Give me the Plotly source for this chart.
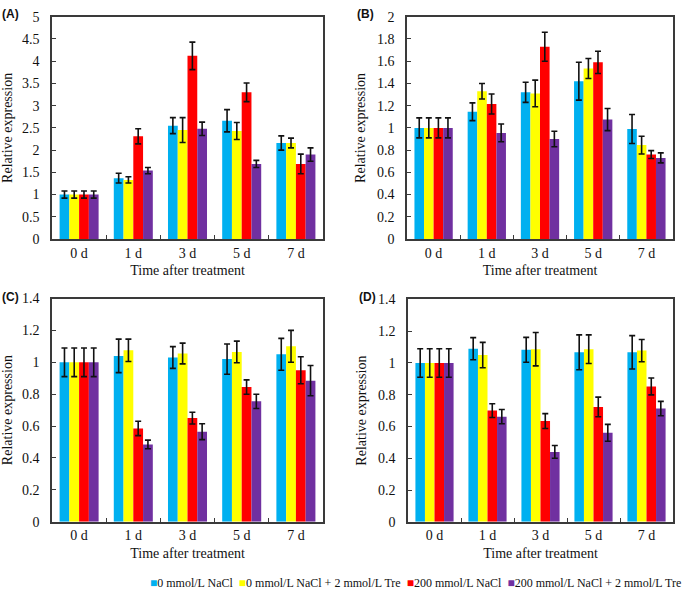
import plotly.graph_objects as go

categories = ["0 d", "1 d", "3 d", "5 d", "7 d"]
series_names = ["0 mmol/L NaCl", "0 mmol/L NaCl + 2 mmol/L Tre",
                "200 mmol/L NaCl", "200 mmol/L NaCl + 2 mmol/L Tre"]
colors = ["#00B0F0", "#FFFF00", "#FF0000", "#7030A0"]

# Panel A
A_vals = [[1.0, 1.37, 2.55, 2.66, 2.16],
          [1.0, 1.33, 2.45, 2.43, 2.16],
          [1.0, 2.31, 4.12, 3.30, 1.69],
          [1.0, 1.54, 2.48, 1.69, 1.90]]
A_err = [[0.08, 0.11, 0.18, 0.25, 0.16],
         [0.08, 0.07, 0.28, 0.19, 0.11],
         [0.08, 0.17, 0.31, 0.21, 0.22],
         [0.08, 0.07, 0.15, 0.08, 0.15]]
# Panel B
B_vals = [[1.0, 1.145, 1.32, 1.42, 0.99],
          [1.0, 1.33, 1.31, 1.535, 0.845],
          [1.0, 1.215, 1.73, 1.59, 0.76],
          [1.0, 0.955, 0.90, 1.075, 0.73]]
B_err = [[0.09, 0.08, 0.09, 0.17, 0.13],
         [0.09, 0.07, 0.12, 0.09, 0.08],
         [0.09, 0.09, 0.13, 0.10, 0.035],
         [0.09, 0.08, 0.07, 0.10, 0.045]]
# Panel C
C_vals = [[1.0, 1.04, 1.03, 1.02, 1.05],
          [1.0, 1.075, 1.055, 1.065, 1.10],
          [1.0, 0.585, 0.65, 0.845, 0.95],
          [1.0, 0.485, 0.565, 0.755, 0.885]]
C_err = [[0.09, 0.105, 0.068, 0.095, 0.10],
         [0.09, 0.07, 0.065, 0.068, 0.10],
         [0.09, 0.045, 0.037, 0.045, 0.085],
         [0.09, 0.027, 0.05, 0.045, 0.095]]
# Panel D
D_vals = [[1.0, 1.09, 1.083, 1.067, 1.067],
          [1.0, 1.05, 1.087, 1.087, 1.078],
          [1.0, 0.70, 0.634, 0.723, 0.852],
          [1.0, 0.662, 0.44, 0.56, 0.713]]
D_err = [[0.09, 0.07, 0.078, 0.11, 0.105],
         [0.09, 0.08, 0.105, 0.09, 0.07],
         [0.09, 0.043, 0.047, 0.062, 0.053],
         [0.09, 0.045, 0.04, 0.053, 0.045]]

panel_labels = ["(A)", "(B)", "(C)", "(D)"]
y_ranges = [(0, 5, 0.5), (0, 2, 0.2), (0, 1.4, 0.2), (0, 1.4, 0.2)]
x_title = "Time after treatment"
y_title = "Relative expression"

W, H = 685, 598
# plot-area pixel boxes: (left, right, top, bottom)
boxes = [(52, 323, 10, 238), (407, 673, 10, 238),
         (52, 323, 299, 528), (408, 673, 300, 528)]
label_pos = [(0, 7), (355, 7), (0, 297), (357, 297)]

fig = go.Figure()
panels = [(A_vals, A_err), (B_vals, B_err), (C_vals, C_err), (D_vals, D_err)]
serif = "Liberation Serif"

for p, (vals, errs) in enumerate(panels):
    xa = "x" if p == 0 else f"x{p+1}"
    ya = "y" if p == 0 else f"y{p+1}"
    for s in range(4):
        fig.add_trace(go.Bar(
            x=categories, y=vals[s], name=series_names[s],
            marker=dict(color=colors[s], line=dict(width=0)),
            error_y=dict(type="data", array=errs[s], color="#111111",
                         thickness=1.6, width=3),
            xaxis=xa, yaxis=ya, showlegend=False))
    l, r, t, b = boxes[p]
    k = "" if p == 0 else str(p + 1)
    y0, y1, dt = y_ranges[p]
    fig.layout["xaxis" + k] = dict(
        domain=[l / W, r / W], anchor="y" + k if k else "y",
        showline=True, linecolor="#3a3a3a", linewidth=1.6, mirror=True,
        ticks="inside", ticklen=4, tickcolor="#3a3a3a", tickwidth=1.4,
        tickson="boundaries", showgrid=False,
        tickfont=dict(family=serif, size=14, color="#111"),
        title=dict(text=x_title, font=dict(family=serif, size=14, color="#111"), standoff=6),
        fixedrange=True)
    fig.layout["yaxis" + k] = dict(
        domain=[1 - b / H, 1 - t / H], anchor="x" + k if k else "x",
        range=[y0, y1], dtick=dt, tick0=0,
        showline=True, linecolor="#3a3a3a", linewidth=1.6, mirror=True,
        ticks="inside", ticklen=4, tickcolor="#3a3a3a", tickwidth=1.4,
        showgrid=False, zeroline=False,
        tickfont=dict(family=serif, size=14, color="#111"),
        ticklabelstandoff=8,
        title=dict(text=y_title, font=dict(family=serif, size=14, color="#111"), standoff=8),
        fixedrange=True)
    lx, ly = label_pos[p]
    fig.add_annotation(x=lx / W, y=1 - ly / H, xref="paper", yref="paper",
                       text="<b>" + panel_labels[p] + "</b>", showarrow=False,
                       xanchor="left", yanchor="middle",
                       font=dict(family="Liberation Sans", size=12, color="#111"))

# legend row
parts = []
for s in range(4):
    parts.append(f"<span style='color:{colors[s]}'>■</span>{series_names[s]}")
legend_text = "&nbsp;&nbsp;".join(parts)
fig.add_annotation(x=683 / W, y=1 - 591 / H, xref="paper", yref="paper",
                   text=legend_text, showarrow=False, xanchor="right", yanchor="middle",
                   font=dict(family=serif, size=12, color="#111"))

fig.update_layout(width=W, height=H, margin=dict(l=0, r=0, t=0, b=0),
                  paper_bgcolor="white", plot_bgcolor="white",
                  barmode="group", bargap=0.28, bargroupgap=0)

fig.write_html("out.html", config={"displayModeBar": False},
               post_script="document.body.style.margin='0';document.body.style.overflow='hidden';")
